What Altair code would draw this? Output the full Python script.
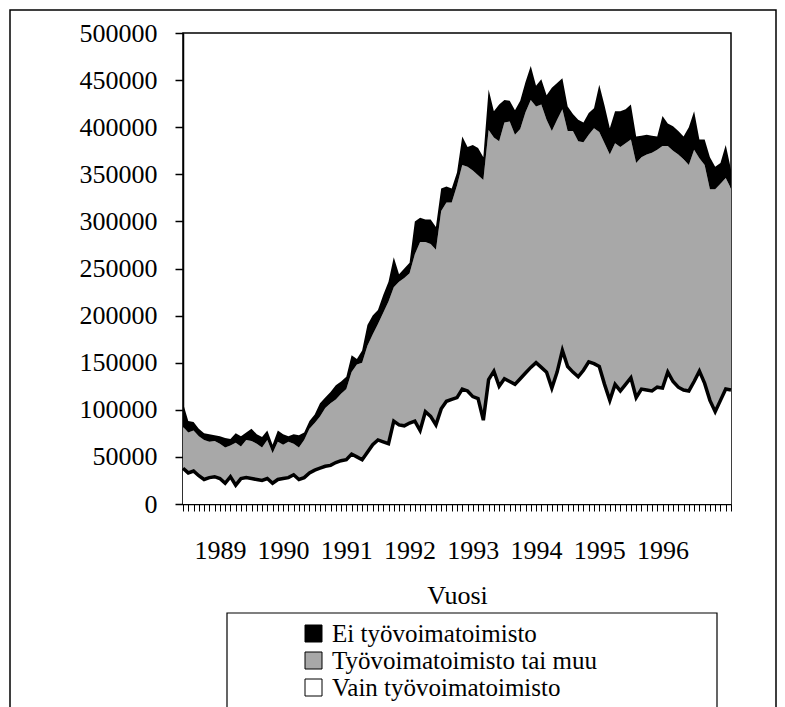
import altair as alt
import pandas as pd

# Monthly values (thousands of persons), month index 0..104
series_names = ["Ei työvoimatoimisto", "Työvoimatoimisto tai muu", "Vain työvoimatoimisto"]

ei = [25, 12, 9, 8, 7, 8, 6, 8, 10, 7,
      10, 11, 8, 13, 10, 11, 10, 9, 12, 11,
      6, 10, 13, 8, 8, 9, 14, 11, 12, 15,
      13, 13, 18, 6, 13, 22, 20, 15, 19, 21,
      32, 8, 10, 11, 35, 26, 24, 26, 24, 24,
      17, 15, 14, 30, 21, 27, 29, 24, 43, 28,
      39, 24, 22, 26, 30, 32, 36, 22, 27, 26,
      46, 39, 33, 26, 18, 23, 21, 23, 21, 50,
      40, 28, 34, 38, 36, 37, 28, 23, 21, 18,
      14, 32, 24, 26, 25, 24, 40, 41, 20, 27,
      34, 24, 22, 35, 20]

muu = [44, 43, 43, 42, 42, 38, 38, 37, 38, 33,
       45, 34, 40, 40, 38, 35, 41, 32, 40, 36,
       38, 33, 34, 40, 47, 50, 55, 62, 66, 67,
       71, 75, 87, 98, 103, 113, 117, 123, 137, 151,
       142, 152, 157, 159, 177, 200, 180, 183, 186, 210,
       211, 209, 225, 238, 238, 240, 237, 255, 265, 248,
       260, 272, 276, 265, 265, 277, 284, 272, 279, 268,
       273, 268, 256, 250, 256, 250, 242, 241, 250, 249,
       256, 261, 256, 259, 256, 253, 249, 246, 250, 253,
       252, 257, 240, 245, 247, 245, 240, 246, 226, 232,
       224, 236, 230, 224, 214]

vain = [38, 33, 35, 30, 26, 28, 29, 27, 22, 29,
        20, 27, 28, 27, 26, 25, 27, 22, 26, 27,
        28, 31, 26, 28, 33, 36, 38, 40, 41, 44,
        46, 47, 53, 50, 47, 55, 63, 68, 66, 64,
        88, 84, 83, 86, 88, 78, 98, 93, 84, 101,
        109, 111, 113, 122, 120, 114, 112, 89, 132, 141,
        125, 133, 130, 127, 133, 139, 145, 150, 145, 140,
        123, 140, 163, 146, 140, 135, 142, 151, 149, 146,
        127, 110, 127, 120, 127, 134, 113, 122, 121, 120,
        124, 123, 140, 130, 124, 121, 120, 130, 141, 128,
        110, 98, 110, 122, 121]

year_labels = ["1989", "1990", "1991", "1992", "1993", "1994", "1995", "1996"]
year_index = [7, 19, 31, 43, 55, 67, 79, 91]
y_ticks = [0, 50000, 100000, 150000, 200000, 250000, 300000, 350000, 400000, 450000, 500000]

n = len(vain)
rows = []
for order, (name, vals) in enumerate([(series_names[2], vain), (series_names[1], muu), (series_names[0], ei)]):
    for i, v in enumerate(vals):
        rows.append({"i": i, "series": name, "value": v * 1000, "ord": order})
df = pd.DataFrame(rows)
df_vain = df[df["series"] == series_names[2]]

idx_arr = "[" + ",".join(str(v) for v in year_index) + "]"
lab_arr = "[" + ",".join("'" + s + "'" for s in year_labels) + "]"
label_expr = f"indexof({idx_arr}, datum.value) >= 0 ? {lab_arr}[indexof({idx_arr}, datum.value)] : ''"

FONT = "Liberation Serif"

x_scale = alt.Scale(domain=[0, n - 1], nice=False, zero=False)
y_scale = alt.Scale(domain=[0, 500000], nice=False)
x_axis = alt.Axis(values=list(range(n)), labelExpr=label_expr, labelOverlap=False,
                  tickSize=7, tickColor="black", tickWidth=1,
                  domainColor="black", domainWidth=1.5,
                  labelFont=FONT, labelFontSize=26, labelColor="black",
                  labelPadding=26, grid=False,
                  title="Vuosi", titleFont=FONT, titleFontSize=26,
                  titleFontWeight="normal", titleColor="black", titlePadding=19)
y_axis = alt.Axis(values=y_ticks, format="d", tickSize=8, tickColor="black",
                  tickWidth=1.5, domainColor="black", domainWidth=1.5,
                  labelFont=FONT, labelFontSize=26, labelColor="black",
                  labelPadding=18, grid=False, title=None)

area = alt.Chart(df).mark_area(interpolate="linear").encode(
    x=alt.X("i:Q", scale=x_scale, axis=x_axis),
    y=alt.Y("value:Q", stack="zero", scale=y_scale, axis=y_axis),
    color=alt.Color("series:N",
                    scale=alt.Scale(domain=series_names, range=["black", "#a8a8a8", "white"]),
                    legend=alt.Legend(orient="none", legendX=118, legendY=588, title=None,
                                      symbolType="square", symbolSize=289,
                                      symbolStrokeColor="black", symbolStrokeWidth=1,
                                      labelFont=FONT, labelFontSize=25, labelColor="black",
                                      labelLimit=0, rowPadding=1, padding=0, labelOffset=6)),
    order=alt.Order("ord:Q"),
)

line = alt.Chart(df_vain).mark_line(color="black", strokeWidth=3.5, interpolate="linear").encode(
    x=alt.X("i:Q", scale=x_scale, axis=x_axis),
    y=alt.Y("value:Q", scale=y_scale, axis=y_axis),
)

deco = pd.DataFrame({"k": [0]})
outer = alt.Chart(deco).mark_rect(filled=False, stroke="black", strokeWidth=1.5).encode(
    x=alt.value(-173), x2=alt.value(593), y=alt.value(-23), y2=alt.value(760)
)
legbox = alt.Chart(deco).mark_rect(filled=False, stroke="black", strokeWidth=1.2).encode(
    x=alt.value(44), x2=alt.value(534), y=alt.value(580), y2=alt.value(760)
)

chart = alt.layer(outer, legbox, area, line).properties(
    width=548, height=471,
    background="white",
    autosize=alt.AutoSizeParams(type="none"),
    padding={"left": 175, "top": 25, "right": 46, "bottom": 230},
).configure_view(stroke="black", strokeWidth=1.5)

chart.save("out.html", embed_options={"renderer": "svg", "actions": False})
